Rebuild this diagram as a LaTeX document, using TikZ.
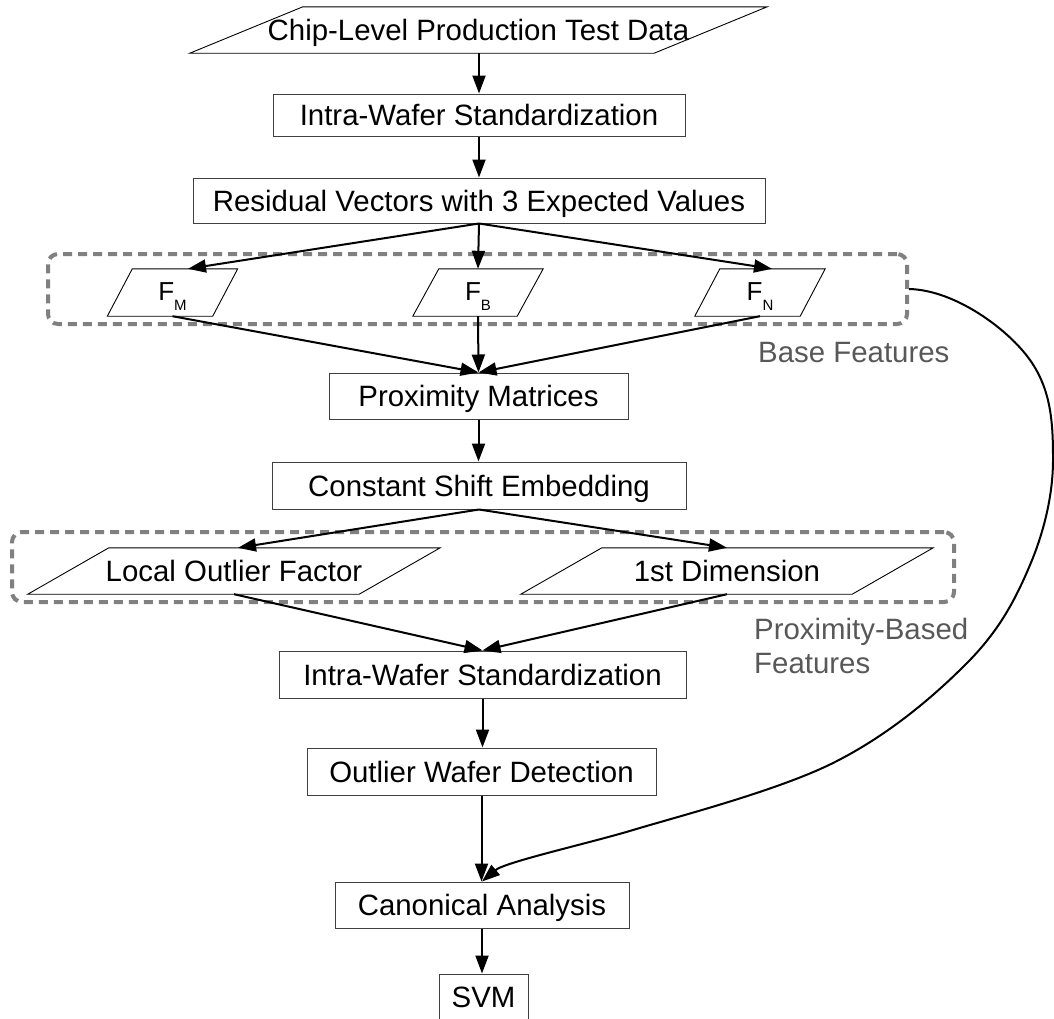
\documentclass[tikz,border=0pt]{standalone}
\usepackage{fontspec}
\setmainfont{Liberation Sans}
\usetikzlibrary{arrows.meta,calc}
\definecolor{dashgray}{RGB}{128,128,128}
\definecolor{labelgray}{RGB}{88,88,88}
\newcommand\parashape[2]{\draw[paraline] (#1.south west) -- ([xshift=-#2]#1.south east) -- (#1.north east) -- ([xshift=#2]#1.north west) -- cycle;}
\newcommand\subtxt[1]{\raisebox{-10pt}{\fontsize{15}{15}\selectfont #1}}
\tikzset{
  mainfont/.style={font=\fontsize{29.4}{34}\selectfont},
  box/.style={draw=black!75, line width=1pt, rectangle, inner sep=0pt, text height=21pt, text depth=0pt, mainfont},
  parabox/.style={rectangle, inner sep=0pt, text height=21pt, text depth=0pt, mainfont},
  fbox/.style={rectangle, inner sep=0pt, text height=18pt, text depth=3pt, font=\fontsize{26}{30}\selectfont, minimum width=130pt, minimum height=47pt},
  paraline/.style={draw=black, line width=0.9pt},
  flow/.style={-{Triangle[length=18pt,width=13pt]}, line width=2pt},
  group/.style={draw=dashgray, line width=4pt, dash pattern=on 9pt off 6pt, rounded corners=10pt, rectangle, inner sep=0pt},
  grouplabel/.style={text=labelgray, mainfont, inner sep=0pt, anchor=base west},
}
\begin{document}
\begin{tikzpicture}[x=1pt,y=-1pt]
\path[use as bounding box, clip] (0,0) rectangle (1054,1018);
\fill[white] (0,0) rectangle (1054,1018);

% groups
\node[group, minimum width=859pt, minimum height=70pt] (base) at (477.5,289) {};
\node[group, minimum width=942pt, minimum height=70pt] (prox) at (483,567) {};
\node[grouplabel] (basel) at (758,362) {Base Features};
\node[grouplabel] (proxl1) at (754,639) {Proximity-Based};
\node[grouplabel] (proxl2) at (754,673) {Features};

% nodes
\node[parabox, minimum width=577pt, minimum height=46pt] (data) at (478.5,30) {Chip-Level Production Test Data};
\parashape{data}{113pt}
\node[box, minimum width=412pt, minimum height=42pt] (iws1) at (479,115) {Intra-Wafer Standardization};
\node[box, minimum width=572pt, minimum height=45pt] (res) at (479,200.5) {Residual Vectors with 3 Expected Values};

\node[fbox] (fm) at (172.5,292.5) {F\subtxt{M}};
\parashape{fm}{25pt}
\node[fbox] (fb) at (478,292.5) {F\subtxt{B}};
\parashape{fb}{26pt}
\node[fbox] (fn) at (760,292.5) {F\subtxt{N}};
\parashape{fn}{25pt}

\node[box, minimum width=299pt, minimum height=46pt] (pm) at (478.5,396) {Proximity Matrices};
\node[box, minimum width=414pt, minimum height=47pt] (cse) at (479,485.5) {Constant Shift Embedding};

\node[parabox, minimum width=412pt, minimum height=46pt] (lof) at (234,571) {Local Outlier Factor};
\parashape{lof}{81pt}
\node[parabox, minimum width=412pt, minimum height=46pt] (dim) at (727,571) {1st Dimension};
\parashape{dim}{81pt}

\node[box, minimum width=407pt, minimum height=47pt] (iws2) at (482.5,674.5) {Intra-Wafer Standardization};
\node[box, minimum width=349pt, minimum height=47pt] (owd) at (481.5,771.5) {Outlier Wafer Detection};
\node[box, minimum width=294pt, minimum height=46pt] (ca) at (482,905) {Canonical Analysis};
\node[box, minimum width=89pt, minimum height=46pt] (svm) at (483.5,997) {SVM};

% connectors
\draw[flow] (iws1.north |- data.south) -- (iws1.north);
\draw[flow] (iws1.south) -- (res.north);
\draw[flow] (res.south) -- ([xshift=15.5pt]fm.north);
\draw[flow] (res.south) -- (fb.north);
\draw[flow] (res.south) -- ([xshift=12pt]fn.north);
\draw[flow] (fm.south) -- (pm.north);
\draw[flow] (fb.south) -- (pm.north);
\draw[flow] (fn.south) -- (pm.north);
\draw[flow] (pm.south) -- (pm.south |- cse.north);
\draw[flow] (cse.south) -- ([xshift=4pt]lof.north);
\draw[flow] (cse.south) -- (dim.north);
\draw[flow] (lof.south) -- (iws2.north);
\draw[flow] (dim.south) -- (iws2.north);
\draw[flow] (iws2.south) -- (iws2.south |- owd.north);
\draw[flow] (owd.south) -- (owd.south |- ca.north);
\draw[flow] (ca.south) -- (ca.south |- svm.north);
\draw[flow] (base.east) .. controls (955,290) and (1008,329) .. (1030,360)
  .. controls (1052,391) and (1053,425.8) .. (1053,460)
  .. controls (1053,494.2) and (1044.3,531.2) .. (1030,565)
  .. controls (1015.7,598.8) and (999.8,630) .. (967,663)
  .. controls (934.2,696) and (888.7,735.2) .. (833,763)
  .. controls (777.3,790.8) and (676,817) .. (633,830)
  .. controls (590,843) and (505,862) .. (ca.north);
\end{tikzpicture}
\end{document}
